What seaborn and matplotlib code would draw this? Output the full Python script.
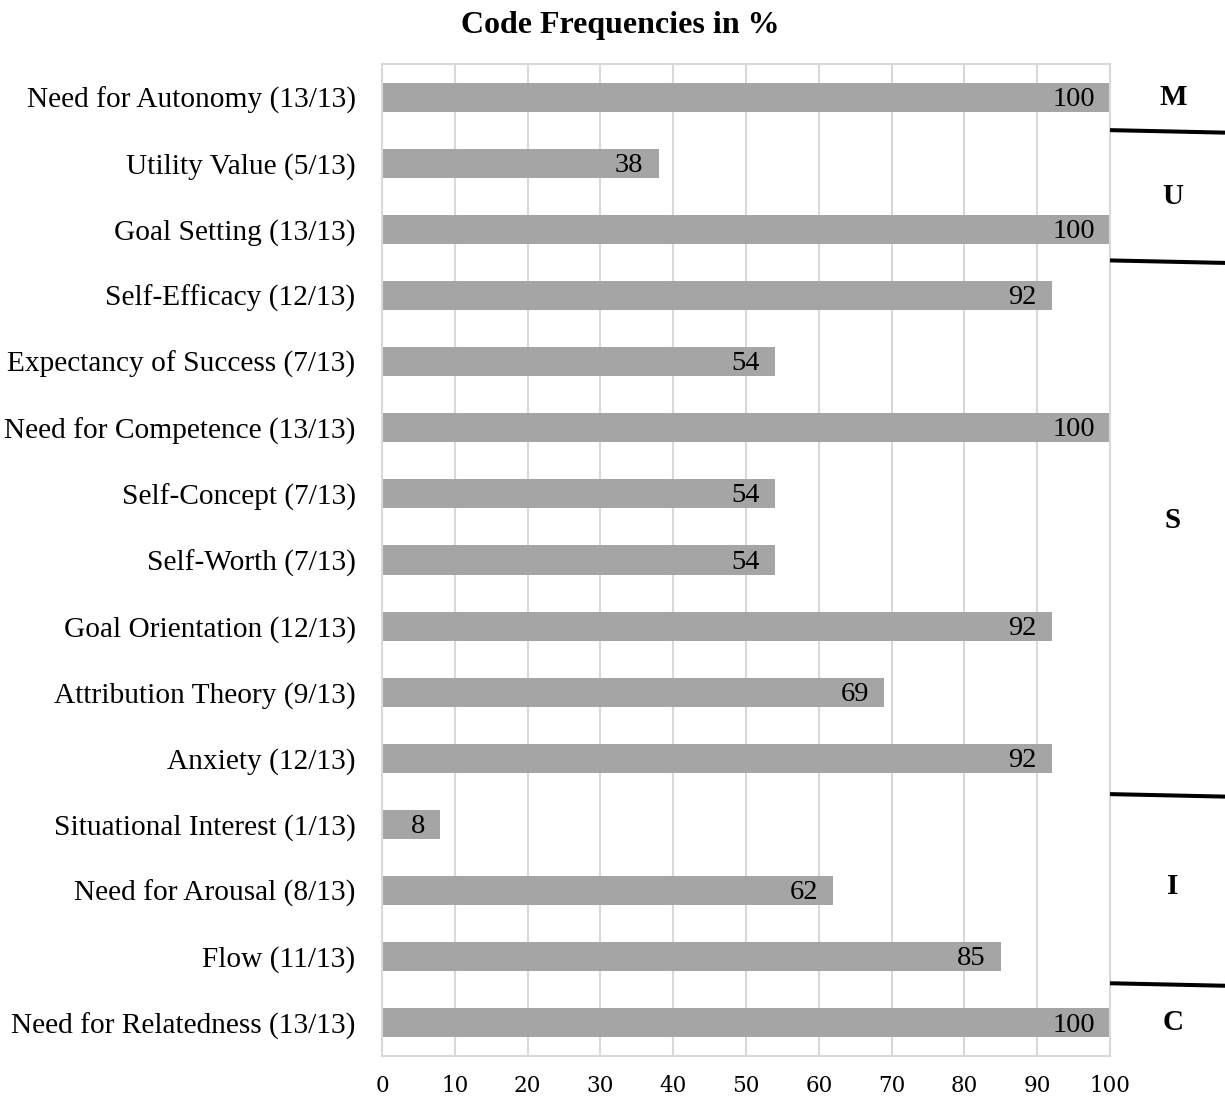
import matplotlib
matplotlib.use("Agg")
import matplotlib.pyplot as plt
import seaborn as sns
import pandas as pd
from matplotlib.lines import Line2D

categories = [
    "Need for Autonomy (13/13)",
    "Utility Value (5/13)",
    "Goal Setting (13/13)",
    "Self-Efficacy (12/13)",
    "Expectancy of Success (7/13)",
    "Need for Competence (13/13)",
    "Self-Concept (7/13)",
    "Self-Worth (7/13)",
    "Goal Orientation (12/13)",
    "Attribution Theory (9/13)",
    "Anxiety (12/13)",
    "Situational Interest (1/13)",
    "Need for Arousal (8/13)",
    "Flow (11/13)",
    "Need for Relatedness (13/13)",
]
values = [100, 38, 100, 92, 54, 100, 54, 54, 92, 69, 92, 8, 62, 85, 100]
x_ticks = [0, 10, 20, 30, 40, 50, 60, 70, 80, 90, 100]
group_letters = ["M", "U", "S", "I", "C"]
group_centers = [0, 1.5, 6.4, 11.93, 14]    # category-index centre of each group label
group_bounds = [0.5, 2.47, 10.54, 13.4]     # separators between groups

sns.set_theme(style="white")
plt.rcParams["font.family"] = ["Liberation Serif", "DejaVu Serif"]
plt.rcParams["text.color"] = "black"
plt.rcParams["xtick.color"] = "black"
plt.rcParams["ytick.color"] = "black"

df = pd.DataFrame({"cat": categories, "val": values})

fig = plt.figure(figsize=(12.25, 10.99), dpi=100)
ax = fig.add_axes([382/1225, 43/1099, 728/1225, 992/1099])

sns.barplot(data=df, x="val", y="cat", orient="h", color="#A5A5A5",
            saturation=1, width=0.44, ax=ax, edgecolor="none")

ax.set_xlim(0, 100)
ax.set_ylim(len(categories) - 0.5, -0.5)
ax.set_xticks(x_ticks)
ax.set_xticklabels([str(t) for t in x_ticks], fontfamily="DejaVu Serif",
                   fontsize=15.5, color="black")
ax.tick_params(axis="x", length=0, pad=14)
ax.tick_params(axis="y", length=0, pad=19, labelsize=21.2, labelcolor="black")
for lab in ax.get_yticklabels():
    lab.set_fontfamily("Liberation Serif")
ax.set_xlabel("")
ax.set_ylabel("")
ax.grid(axis="x", color="#D9D9D9", linewidth=1.5)
ax.set_axisbelow(True)
for s in ax.spines.values():
    s.set_visible(True)
    s.set_color("#D9D9D9")
    s.set_linewidth(1.5)

for i, v in enumerate(values):
    ax.annotate(str(v), xy=(v, i), xytext=(-11, -1.5), textcoords="offset points",
                ha="right", va="center", fontsize=20.5, fontfamily="Liberation Serif",
                color="black")

fig.text(620/1225, 1 - 26/1099, "Code Frequencies in %", ha="center", va="center",
         fontsize=23, fontweight="bold", fontfamily="Liberation Serif", color="black")

trans = ax.transData
inv = fig.transFigure.inverted()
for letter, c in zip(group_letters, group_centers):
    _, yfig = inv.transform(trans.transform((0, c)))
    fig.text(1173/1225, yfig, letter, ha="center", va="center", fontsize=21,
             fontweight="bold", fontfamily="Liberation Serif", color="black")

for b in group_bounds:
    _, yfig = inv.transform(trans.transform((0, b)))
    line = Line2D([1110/1225, 1.0], [yfig, yfig - 2.5/1099],
                  transform=fig.transFigure, color="black", linewidth=2.9,
                  solid_capstyle="butt")
    fig.add_artist(line)

fig.savefig("out.png", dpi=100)
